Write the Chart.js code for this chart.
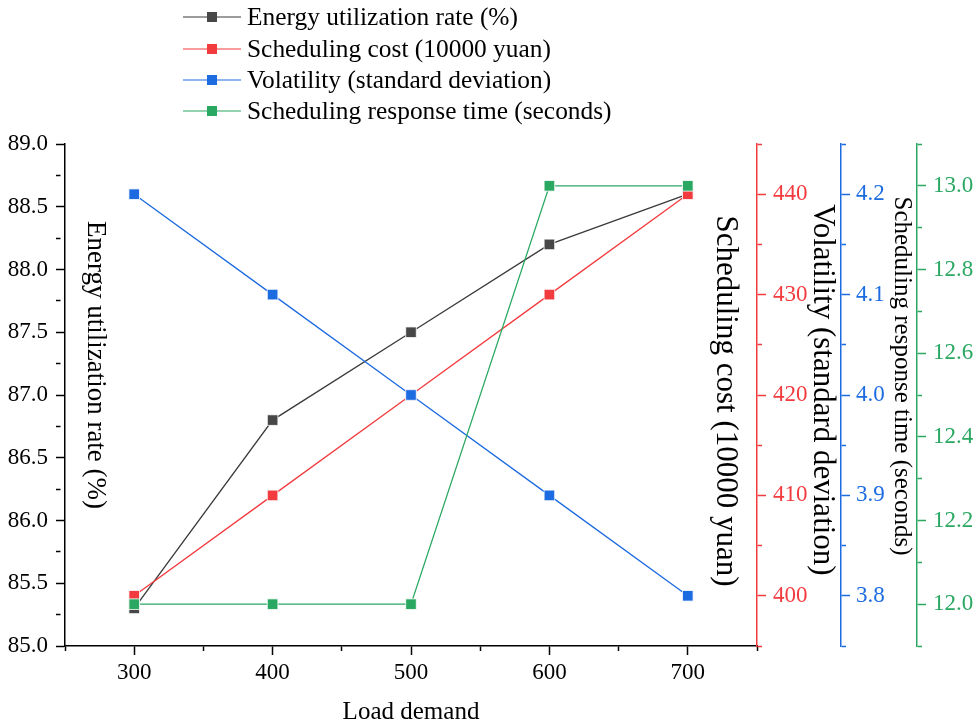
<!DOCTYPE html>
<html>
<head>
<meta charset="utf-8">
<script src="https://cdn.jsdelivr.net/npm/chart.js@4.4.1/dist/chart.umd.min.js"></script>
<style>
  body { margin: 0; background: #fff; }
  canvas { display: block; }
</style>
</head>
<body>
<canvas id="c" width="977" height="723"></canvas>
<script>
// data
const loadDemand = [300, 400, 500, 600, 700];
const energyRate = [85.3, 86.8, 87.5, 88.2, 88.6];
const schedCost = [400, 410, 420, 430, 440];
const volatility = [4.2, 4.1, 4.0, 3.9, 3.8];
const respTime = [12.0, 12.0, 12.0, 13.0, 13.0];

const seriesNames = ['Energy utilization rate (%)', 'Scheduling cost (10000 yuan)',
  'Volatility (standard deviation)', 'Scheduling response time (seconds)'];
const xTitle = 'Load demand';

// tick values (all marks) and the ones that carry a label
const xTicks = [250, 300, 350, 400, 450, 500, 550, 600, 650, 700, 750];
const xLabels = [300, 400, 500, 600, 700];
const yTicks = [85, 85.25, 85.5, 85.75, 86, 86.25, 86.5, 86.75, 87, 87.25, 87.5, 87.75, 88, 88.25, 88.5, 88.75, 89];
const yLabels = [85, 85.5, 86, 86.5, 87, 87.5, 88, 88.5, 89];
const costTicks = [395, 400, 405, 410, 415, 420, 425, 430, 435, 440, 445];
const costLabels = [400, 410, 420, 430, 440];
const volTicks = [3.75, 3.8, 3.85, 3.9, 3.95, 4.0, 4.05, 4.1, 4.15, 4.2, 4.25];
const volLabels = [3.8, 3.9, 4.0, 4.1, 4.2];
const timeTicks = [11.9, 12.0, 12.1, 12.2, 12.3, 12.4, 12.5, 12.6, 12.7, 12.8, 12.9, 13.0, 13.1];
const timeLabels = [12.0, 12.2, 12.4, 12.6, 12.8, 13.0];

const colors = ['#474747', '#f23b3f', '#1c6be0', '#2aa862'];
const lineColors = ['#3a3a3a', '#f23b3f', '#1c6be0', '#2aa862'];
const FONT = "'Liberation Serif', 'Times New Roman', serif";

function pts(ys) {
  return loadDemand.map(function(x, i) { return {x: x, y: ys[i]}; });
}

function has(list, v) {
  return list.some(function(l) { return Math.abs(l - v) < 1e-6; });
}

function fixedTicks(values) {
  return function(scale) {
    scale.ticks = values.map(function(v) { return {value: v}; });
  };
}

function yAxis(opt) {
  return {
    type: 'linear',
    position: opt.pos,
    weight: opt.weight,
    min: opt.min,
    max: opt.max,
    afterBuildTicks: fixedTicks(opt.ticks),
    afterFit: function(s) { s.width = opt.width; },
    border: { color: opt.color, width: 1.5 },
    grid: {
      drawOnChartArea: false,
      tickLength: 9,
      tickColor: opt.color,
      tickWidth: 1.5,
      tickBorderDash: function(ctx) {
        return has(opt.labels, ctx.tick.value) ? [] : [4.5, 40];
      }
    },
    ticks: {
      color: opt.color,
      padding: opt.padding,
      font: { family: FONT, size: 23 },
      autoSkip: false,
      callback: function(v) {
        if (!has(opt.labels, v)) return '';
        return v.toFixed(opt.dec);
      }
    }
  };
}

// rotated axis titles + legend
const extras = {
  id: 'extras',
  afterDraw: function(chart) {
    const ctx = chart.ctx;
    const s = chart.scales;
    const area = chart.chartArea;
    function vtext(txt, x, y, size, color) {
      ctx.save();
      ctx.translate(x, y);
      ctx.rotate(Math.PI / 2);
      ctx.font = size + 'px ' + FONT;
      ctx.fillStyle = color;
      ctx.textAlign = 'center';
      ctx.textBaseline = 'middle';
      ctx.fillText(txt, 0, 0);
      ctx.restore();
    }
    vtext(seriesNames[0], s.y.right + 30, 365, 27, '#000');
    vtext(seriesNames[1], area.right - 32, 401, 31, '#000');
    vtext(seriesNames[2], s.y2.left - 19, 390, 31, '#000');
    vtext(seriesNames[3], s.y3.left - 15, 376, 25, '#000');

    ctx.save();
    ctx.font = '25px ' + FONT;
    ctx.fillStyle = '#000';
    ctx.textAlign = 'center';
    ctx.textBaseline = 'middle';
    ctx.fillText(xTitle, (area.left + area.right) / 2, 712);
    ctx.restore();

    // legend
    const rows = [17, 49, 80, 111];
    ctx.save();
    for (let i = 0; i < 4; i++) {
      const y = rows[i];
      ctx.strokeStyle = lineColors[i];
      ctx.lineWidth = 1.2;
      ctx.beginPath();
      ctx.moveTo(183, y);
      ctx.lineTo(241, y);
      ctx.stroke();
      ctx.fillStyle = colors[i];
      ctx.fillRect(207, y - 5, 10, 10);
      ctx.fillStyle = '#000';
      ctx.font = '25.4px ' + FONT;
      ctx.textAlign = 'left';
      ctx.textBaseline = 'middle';
      ctx.fillText(seriesNames[i], 247, y + 1);
    }
    ctx.restore();
  }
};

function ds(i, data, axis, order) {
  return {
    label: seriesNames[i],
    data: pts(data),
    yAxisID: axis,
    order: order,
    borderColor: lineColors[i],
    borderWidth: 1.3,
    backgroundColor: colors[i],
    pointStyle: 'rect',
    pointRadius: 7.5,
    pointBorderWidth: 0.8,
    pointBorderColor: '#ffffff',
    pointBackgroundColor: colors[i],
    tension: 0
  };
}

new Chart(document.getElementById('c'), {
  type: 'line',
  data: {
    datasets: [
      ds(0, energyRate, 'y', 4),
      ds(1, schedCost, 'y1', 3),
      ds(2, volatility, 'y2', 2),
      ds(3, respTime, 'y3', 1)
    ]
  },
  options: {
    responsive: false,
    animation: false,
    layout: { padding: { top: 144, left: 0, right: 0, bottom: 0 } },
    plugins: { legend: { display: false }, tooltip: { enabled: false } },
    scales: {
      x: {
        type: 'linear',
        min: 250,
        max: 750,
        afterBuildTicks: fixedTicks(xTicks),
        afterFit: function(s) { s.height = 77; },
        border: { color: '#000', width: 1.5 },
        grid: {
          drawOnChartArea: false,
          tickLength: 9,
          tickColor: '#000',
          tickWidth: 1.5,
          tickBorderDash: function(ctx) {
            return has(xLabels, ctx.tick.value) ? [] : [4.5, 40];
          }
        },
        ticks: {
          color: '#000',
          padding: 4,
          maxRotation: 0,
          autoSkip: false,
          font: { family: FONT, size: 23 },
          callback: function(v) { return has(xLabels, v) ? String(v) : ''; }
        }
      },
      y: yAxis({ pos: 'left', weight: 0, min: 85, max: 89, ticks: yTicks, labels: yLabels,
        color: '#000', width: 65, padding: 8, dec: 1 }),
      y1: yAxis({ pos: 'right', weight: 0, min: 395, max: 445, ticks: costTicks, labels: costLabels,
        color: '#f23b3f', width: 84, padding: 7, dec: 0 }),
      y2: yAxis({ pos: 'right', weight: 1, min: 3.75, max: 4.25, ticks: volTicks, labels: volLabels,
        color: '#1c6be0', width: 76, padding: 6, dec: 1 }),
      y3: yAxis({ pos: 'right', weight: 2, min: 11.9, max: 13.1, ticks: timeTicks, labels: timeLabels,
        color: '#2aa862', width: 60, padding: 7, dec: 1 })
    }
  },
  plugins: [extras]
});
</script>
</body>
</html>
